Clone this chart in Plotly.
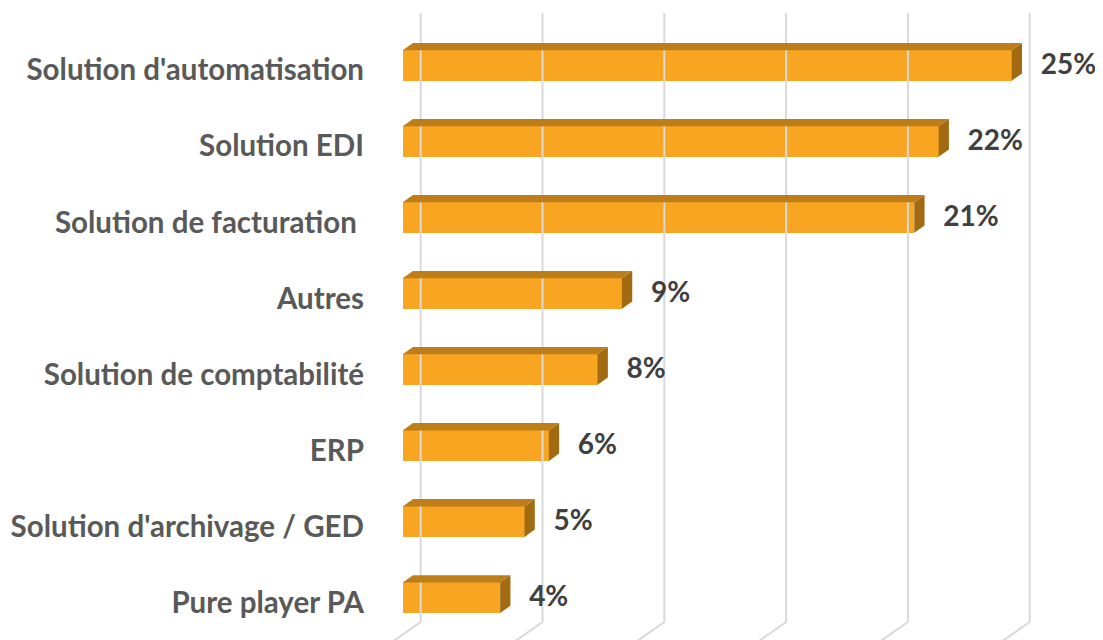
import plotly.graph_objects as go

categories = ["Pure player PA", "Solution d'archivage / GED", "ERP", "Solution de comptabilité",
              "Autres", "Solution de facturation ", "Solution EDI", "Solution d'automatisation"]
values = [4, 5, 6, 8, 9, 21, 22, 25]
value_labels = ["4%", "5%", "6%", "8%", "9%", "21%", "22%", "25%"]
grid_ticks = [0, 5, 10, 15, 20, 25]

# geometry (styles) -- page body has an 8px margin, so the figure is offset by 8px
OFF = 8
PX_PER_X = 24.36
PX_PER_Y = 76.03
W, H = 1103 - OFF, 640 - OFF
X0_PX, Y0_PX = 402.7 - OFF, 597.7 - OFF
bar_h = 30.5 / PX_PER_Y
bdx = 10.3 / PX_PER_X
bdy = 7.3 / PX_PER_Y
wall_dx = 18.0 / PX_PER_X
wall_dy = 12.6 / PX_PER_Y
grid_top = (Y0_PX - (13 - OFF)) / PX_PER_Y
floor_back = -((622 - OFF) - Y0_PX) / PX_PER_Y

FRONT = "#F8A521"
TOP = "#BD7D19"
SIDE = "#A26B12"

ypos = list(range(len(categories)))

fig = go.Figure()

# gridlines on back wall with floor slant
gx, gy = [], []
for t in grid_ticks:
    gx += [t + wall_dx, t + wall_dx, t + wall_dx - 2 * wall_dx, None]
    gy += [grid_top, floor_back, floor_back - 2 * wall_dy, None]
fig.add_trace(go.Scatter(x=gx, y=gy, mode="lines", line=dict(color="#D9D9D9", width=2),
                         hoverinfo="skip", showlegend=False))

# front faces
fig.add_trace(go.Bar(x=values, y=ypos, orientation="h", width=bar_h, base=0,
                     marker=dict(color=FRONT, line=dict(width=0)), showlegend=False))

# top and side faces
tx, ty, sx, sy = [], [], [], []
for v, y in zip(values, ypos):
    top = y + bar_h / 2
    bot = y - bar_h / 2
    tx += [0, v, v + bdx, bdx, 0, None]
    ty += [top, top, top + bdy, top + bdy, top, None]
    sx += [v, v, v + bdx, v + bdx, v, None]
    sy += [bot, top, top + bdy, bot + bdy, bot, None]
fig.add_trace(go.Scatter(x=tx, y=ty, mode="lines", fill="toself", fillcolor=TOP,
                         line=dict(width=0, color=TOP), hoverinfo="skip", showlegend=False))
fig.add_trace(go.Scatter(x=sx, y=sy, mode="lines", fill="toself", fillcolor=SIDE,
                         line=dict(width=0, color=SIDE), hoverinfo="skip", showlegend=False))

# value labels
fig.add_trace(go.Scatter(x=[v + 29 / PX_PER_X for v in values], y=[y - 0.02 for y in ypos],
                         mode="text", text=value_labels, textposition="middle right",
                         textfont=dict(family="Lato", size=28, color="#404040", weight=700),
                         hoverinfo="skip", showlegend=False, cliponaxis=False))

# category labels
fig.add_trace(go.Scatter(x=[-(X0_PX - (364 - OFF)) / PX_PER_X] * len(categories), y=[y - 0.1 for y in ypos],
                         mode="text", text=categories, textposition="middle left",
                         textfont=dict(family="Lato", size=29.5, color="#595959", weight=700),
                         hoverinfo="skip", showlegend=False, cliponaxis=False))

fig.update_layout(
    width=W, height=H,
    margin=dict(l=0, r=0, t=0, b=0),
    paper_bgcolor="white", plot_bgcolor="white",
    xaxis=dict(range=[-X0_PX / PX_PER_X, (W - X0_PX) / PX_PER_X], visible=False, fixedrange=True),
    yaxis=dict(range=[-(H - Y0_PX) / PX_PER_Y, Y0_PX / PX_PER_Y], visible=False, fixedrange=True),
    bargap=0,
)

fig.write_html("out.html")
